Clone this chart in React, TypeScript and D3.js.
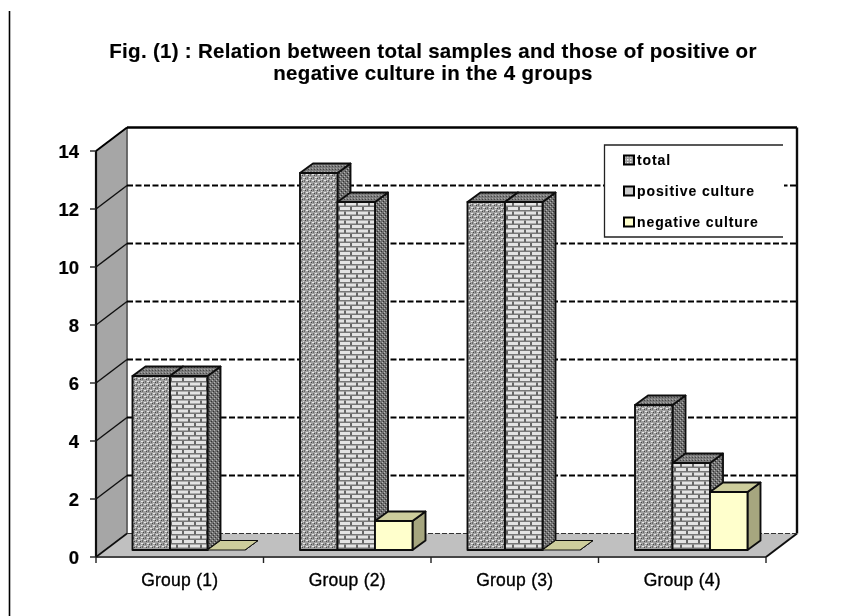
import React from "react";
import * as d3 from "d3";

const groups = ["Group (1)", "Group (2)", "Group (3)", "Group (4)"];
const seriesNames = ["total", "positive culture", "negative culture"];
const totalValues = [6, 13, 12, 5];
const positiveValues = [6, 12, 12, 3];
const negativeValues = [0, 1, 0, 2];
const yTicks = [0, 2, 4, 6, 8, 10, 12, 14];
const titleLines = [
  "Fig. (1) : Relation between total samples and those of positive or",
  "negative culture in the 4 groups",
];

const W = 845, H = 616;
const FONT = "'Liberation Sans', Arial, sans-serif";
const seriesValues = [totalValues, positiveValues, negativeValues];

const y = d3.scaleLinear().domain([0, 14]).range([557, 151]);
const x = d3.scaleBand<string>().domain(groups).range([96, 766]);
const xs = d3.scaleBand<string>().domain(seriesNames).range([36.5, 149]);

const wallDx = 31, wallDy = -23.5;
const barBaseDy = -7, barDx = 13, barDy = -9.5;
const poly = (pts: number[][]) => pts.map((p) => p.join(",")).join(" ");

const fronts = ["url(#pTotal)", "url(#pBrick)", "#ffffcc"];
const sides = ["url(#pDark)", "url(#pDark)", "#a6a67f"];
const tops = ["url(#pDark2)", "url(#pDark2)", "#cdcd9c"];

function Patterns() {
  return (
    <defs>
      <filter id="soft" x="0" y="0" width="100%" height="100%">
        <feGaussianBlur stdDeviation="0.5" />
      </filter>
      <pattern id="pTotal" width="6" height="6" patternUnits="userSpaceOnUse">
        <rect width="6" height="6" fill="#a0a0a0" />
        <rect x="0" y="0" width="2" height="1" fill="#e8e8e8" />
        <rect x="3" y="3" width="2" height="1" fill="#e8e8e8" />
        <rect x="2" y="1" width="1" height="1" fill="#444" />
        <rect x="5" y="4" width="1" height="1" fill="#444" />
        <rect x="4" y="0" width="1" height="2" fill="#6a6a6a" />
        <rect x="1" y="3" width="1" height="2" fill="#6a6a6a" />
        <rect x="3" y="5" width="1" height="1" fill="#ddd" />
      </pattern>
      <pattern id="pBrick" width="12" height="9" patternUnits="userSpaceOnUse">
        <rect width="12" height="9" fill="#e4e4e4" />
        <rect y="3" width="12" height="1.5" fill="#777" />
        <rect y="7.5" width="12" height="1.5" fill="#777" />
        <rect x="2" y="0" width="2" height="3.5" fill="#666" />
        <rect x="8" y="4.5" width="2" height="3.5" fill="#666" />
      </pattern>
      <pattern id="pDark" width="4" height="4" patternUnits="userSpaceOnUse">
        <rect width="4" height="4" fill="#707070" />
        <rect x="0" y="0" width="1" height="1" fill="#b4b4b4" />
        <rect x="2" y="2" width="1" height="1" fill="#b4b4b4" />
        <rect x="1" y="3" width="1" height="1" fill="#333" />
        <rect x="3" y="1" width="1" height="1" fill="#333" />
      </pattern>
      <pattern id="pDark2" width="3" height="3" patternUnits="userSpaceOnUse">
        <rect width="3" height="3" fill="#7c7c7c" />
        <rect x="0" y="0" width="1" height="1" fill="#a8a8a8" />
        <rect x="2" y="1" width="1" height="1" fill="#444" />
      </pattern>
      <pattern id="pLegendTotal" width="3" height="3" patternUnits="userSpaceOnUse">
        <rect width="3" height="3" fill="#999" />
        <rect width="1.5" height="1.5" fill="#eee" />
      </pattern>
    </defs>
  );
}

function Bar({ gi, si }: { gi: number; si: number }) {
  const v = seriesValues[si][gi];
  const x0 = x(groups[gi])! + xs(seriesNames[si])!;
  const x1 = x0 + xs.bandwidth();
  const yB = y(0) + barBaseDy;
  const yT = y(v) + barBaseDy;
  const sw = v === 0 ? 1 : 1.9;
  return (
    <g stroke="#111" strokeWidth={sw} strokeLinejoin="round">
      <polygon fill={sides[si]} points={poly([[x1, yT], [x1 + barDx, yT + barDy], [x1 + barDx, yB + barDy], [x1, yB]])} />
      <polygon fill={tops[si]} points={poly([[x0, yT], [x1, yT], [x1 + barDx, yT + barDy], [x0 + barDx, yT + barDy]])} />
      {v > 0 && <rect x={x0} y={yT} width={x1 - x0} height={yB - yT} fill={fronts[si]} />}
    </g>
  );
}

export default function App() {
  const y0 = y(0), yTop = y(14);
  const xL = 96, xR = 766;
  const yBack = (v: number) => y(v) + wallDy;
  const legendYs = [160, 191, 222];
  return (
    <svg width={W} height={H} style={{ position: "absolute", left: 0, top: 0, background: "#fff" }}>
      <Patterns />
      <g filter="url(#soft)">
        <rect width={W} height={H} fill="#fff" />
        <line x1={9.5} x2={9.5} y1={11} y2={616} stroke="#000" strokeWidth={1.6} />
        {titleLines.map((t, i) => (
          <text key={t} x={433} y={58 + i * 22} textAnchor="middle" fontFamily={FONT} fontWeight={700} fontSize={20.5} letterSpacing={0.3} stroke="#000" strokeWidth={0.15} fill="#000">{t}</text>
        ))}

        {/* walls */}
        <polygon fill="#a6a6a6" stroke="#222" strokeWidth={1} points={poly([[xL, yTop], [xL + wallDx, yTop + wallDy], [xL + wallDx, y0 + wallDy], [xL, y0]])} />
        <polygon fill="#c0c0c0" stroke="none" points={poly([[xL, y0], [xL + wallDx, y0 + wallDy], [xR + wallDx, y0 + wallDy], [xR, y0]])} />
        <line x1={xL + wallDx} x2={xL + wallDx} y1={yTop + wallDy} y2={y0 + wallDy} stroke="#666" strokeWidth={1.5} />
        <line x1={xL + wallDx} x2={xR + wallDx} y1={yTop + wallDy} y2={yTop + wallDy} stroke="#000" strokeWidth={2.4} />
        <line x1={xR + wallDx} x2={xR + wallDx} y1={yTop + wallDy} y2={y0 + wallDy} stroke="#111" strokeWidth={2.4} />
        <line x1={xL + wallDx} x2={xL} y1={yTop + wallDy} y2={yTop} stroke="#000" strokeWidth={2} />
        <line x1={xL} x2={xL} y1={yTop} y2={y0} stroke="#111" strokeWidth={2.2} />
        <line x1={xL} x2={xR} y1={y0} y2={y0} stroke="#444" strokeWidth={2.2} />
        <line x1={xR} x2={xR + wallDx} y1={y0} y2={y0 + wallDy} stroke="#111" strokeWidth={2} />
        <line x1={xL + wallDx} x2={xR + wallDx} y1={y0 + wallDy} y2={y0 + wallDy} stroke="#333" strokeWidth={1.2} strokeDasharray="5 2" />

        {/* gridlines */}
        {yTicks.filter((t) => t > 0 && t < 14).map((t) => (
          <g key={t}>
            <line x1={xL} x2={xL + wallDx} y1={y(t)} y2={yBack(t)} stroke="#111" strokeWidth={1.5} />
            <line x1={xL + wallDx} x2={xR + wallDx} y1={yBack(t)} y2={yBack(t)} stroke="#000" strokeWidth={1.9} strokeDasharray="6 2.5" />
          </g>
        ))}
        <line x1={xL} x2={xL + wallDx} y1={y0} y2={y0 + wallDy} stroke="#111" strokeWidth={1.6} />

        {/* axis ticks and labels */}
        {yTicks.map((t) => (
          <g key={t}>
            <line x1={xL - 6} x2={xL} y1={y(t)} y2={y(t)} stroke="#222" strokeWidth={1.4} />
            <text x={79} y={y(t) + 6.5} textAnchor="end" fontFamily={FONT} fontWeight={700} fontSize={18.5} stroke="#000" strokeWidth={0.2} fill="#000">{t}</text>
          </g>
        ))}
        {[...groups.map((g) => x(g)!), xR].map((px) => (
          <line key={px} x1={px} x2={px} y1={y0} y2={y0 + 6} stroke="#222" strokeWidth={1.4} />
        ))}
        {groups.map((g) => (
          <text key={g} x={x(g)! + x.bandwidth() / 2} y={586} textAnchor="middle" fontFamily={FONT} fontSize={17.5} fontWeight={400} letterSpacing={0.25} stroke="#000" strokeWidth={0.35} fill="#000">{g}</text>
        ))}

        {/* bars */}
        {groups.map((g, gi) => (
          <g key={g}>{seriesNames.map((s, si) => <Bar key={s} gi={gi} si={si} />)}</g>
        ))}

        {/* legend */}
        <rect x={604} y={145} width={180} height={92} fill="#fff" />
        <path d="M783,145 H604.5 V237 H783" fill="none" stroke="#222" strokeWidth={1.3} />
        {seriesNames.map((s, i) => (
          <g key={s}>
            <rect x={624} y={legendYs[i] - 4.5} width={10} height={9} fill={i === 0 ? "url(#pLegendTotal)" : i === 1 ? "#ccc" : "#ffffcc"} stroke="#000" strokeWidth={2} />
            <text x={637} y={legendYs[i] + 5} fontFamily={FONT} fontWeight={700} fontSize={14} letterSpacing={0.9} stroke="#000" strokeWidth={0.1} fill="#000">{s}</text>
          </g>
        ))}
      </g>
    </svg>
  );
}
